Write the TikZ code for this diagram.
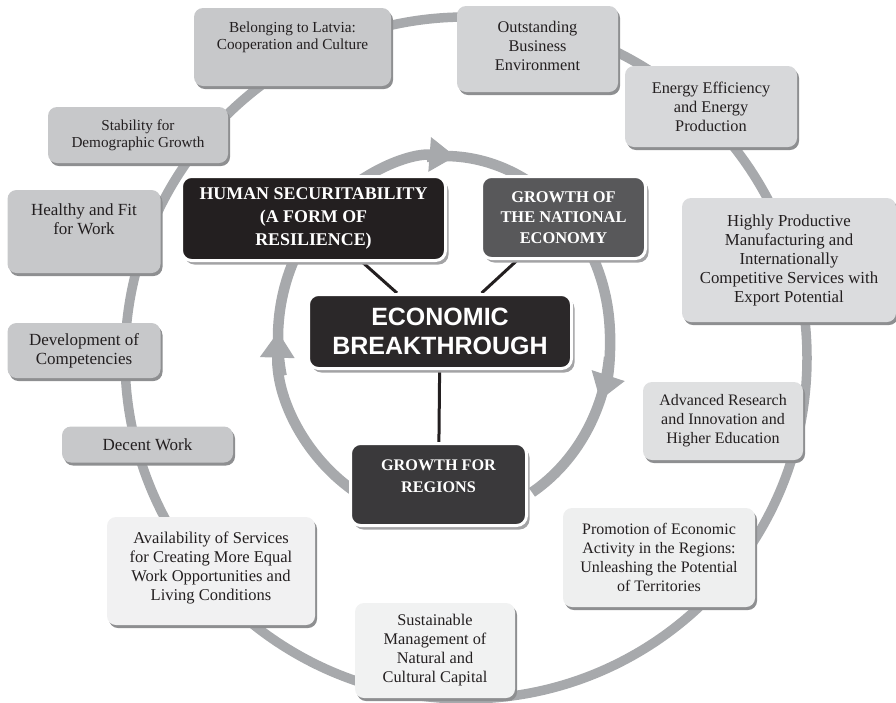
\documentclass[tikz,border=0pt]{standalone}
\usepackage{fontspec}
\setmainfont{Liberation Serif}
\newfontfamily\sansfont{Liberation Sans}
\usetikzlibrary{arrows.meta,shadows}
\definecolor{ring}{HTML}{A7A9AC}
\definecolor{txt}{HTML}{231F20}
\definecolor{cA}{HTML}{C7C8CA}
\definecolor{cOut}{HTML}{D2D3D5}
\definecolor{cEne}{HTML}{D7D8DA}
\definecolor{cHig}{HTML}{DBDCDE}
\definecolor{cAdv}{HTML}{DFE0E1}
\definecolor{cPro}{HTML}{EEEFEF}
\definecolor{cSus}{HTML}{F1F2F2}
\definecolor{cAva}{HTML}{F1F1F2}
\definecolor{osh}{HTML}{8E8F91}
\definecolor{ish}{HTML}{A3A3A5}
\definecolor{hum}{HTML}{231F20}
\definecolor{nat}{HTML}{58585A}
\definecolor{eco}{HTML}{2B2829}
\definecolor{reg}{HTML}{3A393B}
\newcommand\pushup[1]{\vrule width0pt height0pt depth#1\relax}
\pgfdeclarelayer{bg}
\pgfsetlayers{bg,main}
\tikzset{
  obox/.style={rectangle, rounded corners=9pt, draw=none, text=txt, align=center, inner sep=0pt,
    drop shadow={shadow xshift=2pt, shadow yshift=-3pt, fill=osh, opacity=1}},
  ibox/.style={rectangle, rounded corners=10pt, draw=white, line width=3pt, text=white, align=center, inner sep=0pt,
    drop shadow={shadow xshift=3pt, shadow yshift=-4pt, fill=ish, opacity=1}},
  ringline/.style={draw=ring, line width=9.5pt},
  rarrow/.style={draw=ring, line width=10.5pt, -{Triangle[width=33pt,length=26pt]}},
  rband/.style={draw=ring, line width=10.5pt},
  link/.style={draw=txt, line width=3pt},
  fs/.style={font=\fontsize{#1}{19}\selectfont},
}
\begin{document}
\begin{tikzpicture}[x=1pt,y=-1pt]
\useasboundingbox (0,0) rectangle (896,702);

% outer boxes
\node[obox, fill=cA, minimum width=197pt, minimum height=78pt, font=\fontsize{15.3}{17}\selectfont] (bel) at (292.5,47)
  {Belonging to Latvia:\\Cooperation and Culture\pushup{23pt}};
\node[obox, fill=cOut, minimum width=161pt, minimum height=86pt, fs=16.3] (out) at (537.5,49)
  {Outstanding\\Business\\Environment\pushup{7pt}};
\node[obox, fill=cEne, minimum width=172pt, minimum height=81pt, fs=16.3] (ene) at (711,106.5)
  {Energy Efficiency\\and Energy\\Production};
\node[obox, fill=cHig, minimum width=214pt, minimum height=124pt, fs=16.8] (hig) at (789,260)
  {Highly Productive\\Manufacturing and\\Internationally\\Competitive Services with\\Export Potential};
\node[obox, fill=cAdv, minimum width=160pt, minimum height=78pt, fs=16] (adv) at (723,421)
  {Advanced Research\\and Innovation and\\Higher Education};
\node[obox, fill=cPro, minimum width=192pt, minimum height=99pt, fs=16] (pro) at (659,557.5)
  {Promotion of Economic\\Activity in the Regions:\\Unleashing the Potential\\of Territories};
\node[obox, fill=cSus, minimum width=160pt, minimum height=95pt, fs=16.3] (sus) at (435,650.5)
  {Sustainable\\Management of\\Natural and\\Cultural Capital};
\node[obox, fill=cAva, minimum width=208pt, minimum height=108pt, fs=16.5] (ava) at (211,571)
  {Availability of Services\\for Creating More Equal\\Work Opportunities and\\Living Conditions\pushup{9pt}};
\node[obox, fill=cA, minimum width=171pt, minimum height=36pt, fs=17] (dec) at (147.5,444.5)
  {Decent Work};
\node[obox, fill=cA, minimum width=153pt, minimum height=55pt, fs=17] (dev) at (84,350.5)
  {Development of\\Competencies};
\node[obox, fill=cA, minimum width=153pt, minimum height=83pt, fs=17] (hea) at (84,231.5)
  {Healthy and Fit\\for Work\pushup{24pt}};
\node[obox, fill=cA, minimum width=180pt, minimum height=56pt, font=\fontsize{15.2}{17}\selectfont] (sta) at (138,135)
  {Stability for\\Demographic Growth};

% inner boxes
\node[ibox, fill=hum, minimum width=264pt, minimum height=84pt, font=\fontsize{17.9}{23}\selectfont\bfseries] (hs) at (313.5,218.5)
  {HUMAN SECURITABILITY\\(A FORM OF\\RESILIENCE)};
\node[ibox, fill=nat, minimum width=164pt, minimum height=82pt, font=\fontsize{16.4}{20.5}\selectfont\bfseries] (ne) at (563.5,217.5)
  {GROWTH OF\\THE NATIONAL\\ECONOMY};
\node[ibox, fill=eco, minimum width=263pt, minimum height=74pt, font=\sansfont\fontsize{25}{29}\selectfont\bfseries] (eb) at (440,331.5)
  {ECONOMIC\\BREAKTHROUGH};
\node[ibox, fill=reg, minimum width=176pt, minimum height=82pt, font=\fontsize{16.2}{22}\selectfont\bfseries] (gr) at (438.5,484.5)
  {GROWTH FOR\\REGIONS\pushup{17pt}};

\begin{pgfonlayer}{bg}
% outer ring
\draw[ringline] (466,358) circle[radius=341pt];
% inner circular arrows
\draw[rband] (444,338) ++(-6:166pt and 182pt) arc[start angle=-6, end angle=-58, x radius=166pt, y radius=182pt];
\draw[rarrow] (444,338) ++(96:166pt and 182pt) arc[start angle=96, end angle=-20, x radius=166pt, y radius=182pt];
\draw[rarrow] (444,338) ++(192:166pt and 182pt) arc[start angle=192, end angle=86, x radius=166pt, y radius=182pt];
\draw[rarrow] (444,338) ++(245:166pt and 182pt) arc[start angle=245, end angle=178, x radius=166pt, y radius=182pt];
% connectors
\draw[link] (hs) -- (eb);
\draw[link] (ne) -- (eb);
\draw[link] (eb) -- (gr);
\end{pgfonlayer}
\end{tikzpicture}
\end{document}
